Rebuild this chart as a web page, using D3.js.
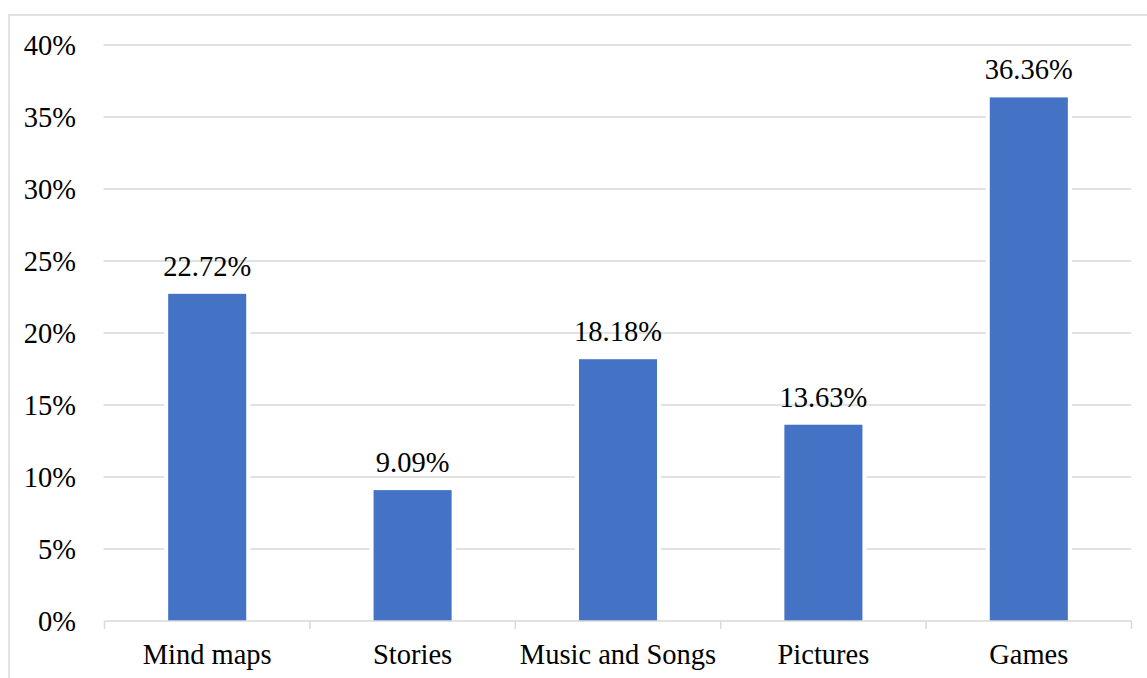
<!DOCTYPE html>
<html>
<head>
<meta charset="utf-8">
<script src="https://cdn.jsdelivr.net/npm/d3@7"></script>
<style>
  html, body { margin: 0; padding: 0; background: #fff; }
  svg { display: block; }
</style>
</head>
<body>
<svg id="chart" width="1147" height="678"></svg>
<script>
// Share of each activity type
const categories = ["Mind maps", "Stories", "Music and Songs", "Pictures", "Games"];
const values = [22.72, 9.09, 18.18, 13.63, 36.36];
const yTicks = [0, 5, 10, 15, 20, 25, 30, 35, 40];

const FONT = "'Liberation Serif', 'Times New Roman', Times, serif";
const FS = 28.5;
const svg = d3.select("#chart");
const plot = { left: 104.5, right: 1131.5, top: 45, bottom: 621 };

// Outer frame (extends past the right and bottom edges)
svg.append("rect")
  .attr("x", 9).attr("y", 15)
  .attr("width", 1300).attr("height", 800)
  .attr("fill", "none").attr("stroke", "#d9d9d9").attr("stroke-width", 1.5);

const x = d3.scaleBand()
  .domain(categories)
  .range([plot.left, plot.right])
  .paddingInner(0.62).paddingOuter(0.31);

const y = d3.scaleLinear().domain([0, 40]).range([plot.bottom, plot.top]);

// Horizontal gridlines
svg.append("g").selectAll("line")
  .data(yTicks.filter(d => d > 0))
  .join("line")
  .attr("x1", plot.left - 1).attr("x2", plot.right)
  .attr("y1", d => y(d)).attr("y2", d => y(d))
  .attr("stroke", "#d9d9d9").attr("stroke-width", 1.5);

// Y tick labels
svg.append("g").selectAll("text")
  .data(yTicks)
  .join("text")
  .attr("x", 76)
  .attr("y", d => y(d) + 9.5)
  .attr("text-anchor", "end")
  .attr("font-family", FONT)
  .attr("font-size", FS)
  .attr("fill", "#000")
  .text(d => d + "%");

// White halo so gridlines break around the bars
svg.append("g").selectAll("rect")
  .data(values)
  .join("rect")
  .attr("x", (d, i) => x(categories[i]) - 4)
  .attr("width", x.bandwidth() + 8)
  .attr("y", d => y(d) - 4)
  .attr("height", d => y(0) - y(d) + 4)
  .attr("fill", "#fff");

// Bars
svg.append("g").selectAll("rect")
  .data(values)
  .join("rect")
  .attr("x", (d, i) => x(categories[i]))
  .attr("width", x.bandwidth())
  .attr("y", d => y(d))
  .attr("height", d => y(0) - y(d))
  .attr("fill", "#4472c4");

// Value labels
svg.append("g").selectAll("text")
  .data(values)
  .join("text")
  .attr("x", (d, i) => x(categories[i]) + x.bandwidth() / 2)
  .attr("y", d => y(d) - 18)
  .attr("text-anchor", "middle")
  .attr("font-family", FONT)
  .attr("font-size", FS)
  .attr("fill", "#000")
  .text(d => d.toFixed(2) + "%");

// X axis line and category boundary ticks
const axis = svg.append("g");
axis.append("line")
  .attr("x1", plot.left).attr("x2", plot.right)
  .attr("y1", plot.bottom).attr("y2", plot.bottom)
  .attr("stroke", "#d9d9d9").attr("stroke-width", 1.5);
const step = x.step();
axis.selectAll("line.tick")
  .data(d3.range(categories.length + 1))
  .join("line")
  .attr("class", "tick")
  .attr("x1", i => plot.left + i * step).attr("x2", i => plot.left + i * step)
  .attr("y1", plot.bottom).attr("y2", plot.bottom + 8)
  .attr("stroke", "#d9d9d9").attr("stroke-width", 1.5);

// Category labels
axis.selectAll("text")
  .data(categories)
  .join("text")
  .attr("x", d => x(d) + x.bandwidth() / 2)
  .attr("y", 664)
  .attr("text-anchor", "middle")
  .attr("font-family", FONT)
  .attr("font-size", FS)
  .attr("fill", "#000")
  .text(d => d);
</script>
</body>
</html>
